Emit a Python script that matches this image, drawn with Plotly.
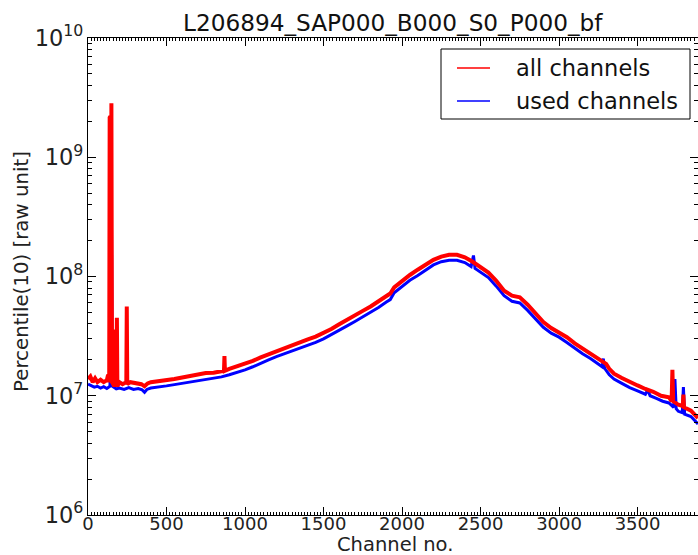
import plotly.graph_objects as go

title_text = "L206894_SAP000_B000_S0_P000_bf"
x_label = "Channel no."
y_label = "Percentile(10) [raw unit]"
series_names = ["all channels", "used channels"]
series_colors = ["#ff0000", "#0000ff"]

# "all channels" (red)
all_ch = [0, 15, 30, 45, 60, 80, 100, 120, 128, 135, 138, 143, 146, 149, 153, 160, 168, 171, 174,
          181, 184, 187, 200, 220, 244, 247, 250, 270, 300, 340, 360, 380, 400, 450, 500, 550, 600,
          650, 700, 750, 800, 850, 866, 869, 872, 900, 950, 1000, 1050, 1100, 1150, 1200, 1250,
          1300, 1350, 1400, 1450, 1500, 1550, 1600, 1650, 1700, 1750, 1800, 1850, 1900, 1925, 1950,
          2000, 2050, 2100, 2150, 2200, 2250, 2300, 2350, 2400, 2450, 2500, 2550, 2600, 2650, 2700,
          2750, 2800, 2850, 2900, 2950, 3000, 3050, 3100, 3150, 3200, 3250, 3300, 3320, 3350, 3400,
          3450, 3500, 3550, 3600, 3650, 3700, 3717, 3722, 3727, 3760, 3788, 3792, 3796, 3840, 3885]
all_val = [1.38e7, 1.45e7, 1.3e7, 1.4e7, 1.3e7, 1.36e7, 1.3e7, 1.35e7, 1.5e7, 1.3e7, 2.15e9, 2.2e9,
           1.4e7, 2.84e9, 1.3e7, 1.25e7, 1.2e7, 3.6e7, 1.2e7,
           1.25e7, 4.5e7, 1.2e7, 1.3e7, 1.25e7, 1.3e7, 5.6e7, 1.25e7, 1.3e7, 1.27e7, 1.25e7, 1.2e7,
           1.27e7, 1.3e7, 1.32e7, 1.35e7, 1.38e7, 1.42e7,
           1.46e7, 1.5e7, 1.55e7, 1.56e7, 1.6e7, 1.62e7, 2.15e7, 1.62e7, 1.68e7, 1.76e7, 1.85e7,
           1.96e7, 2.1e7, 2.23e7, 2.38e7, 2.52e7,
           2.66e7, 2.8e7, 2.97e7, 3.13e7, 3.35e7, 3.63e7, 3.97e7, 4.3e7, 4.7e7, 5.15e7, 5.6e7,
           6.15e7, 6.8e7, 7.2e7, 8.1e7,
           9.2e7, 1.03e8, 1.14e8, 1.26e8, 1.38e8, 1.47e8, 1.52e8, 1.52e8, 1.45e8, 1.33e8, 1.2e8,
           1.08e8, 9.2e7, 7.6e7, 6.9e7,
           6.7e7, 5.8e7, 4.9e7, 4.15e7, 3.7e7, 3.4e7, 3.1e7, 2.75e7, 2.5e7, 2.27e7, 2.05e7, 1.85e7,
           1.68e7, 1.53e7, 1.41e7,
           1.3e7, 1.22e7, 1.14e7, 1.08e7, 1.0e7, 9.7e6, 9.0e6, 1.65e7, 9.0e6, 8.4e6, 8.2e6, 1.02e7,
           8.0e6, 7.5e6, 6.5e6]

# "used channels" (blue)
used_ch = [0, 20, 40, 60, 80, 100, 120, 140, 148, 155, 180, 200, 230, 260, 290, 320, 345, 360, 375,
           400, 450, 500, 550, 600, 650, 700, 750, 800, 850, 900, 950, 1000, 1050, 1100, 1150, 1200,
           1250, 1300, 1350, 1400, 1450, 1500, 1550, 1600, 1650, 1700, 1750, 1800, 1850, 1900, 1925,
           1950, 2000, 2050, 2100, 2150, 2200, 2250, 2300, 2350, 2400, 2440, 2455, 2465, 2500, 2550,
           2600, 2650, 2700, 2750, 2800, 2850, 2900, 2950, 3000, 3050, 3100, 3150, 3200, 3250, 3275,
           3282, 3290, 3320, 3350, 3400, 3450, 3500, 3550, 3565, 3580, 3620, 3660, 3700, 3730, 3738,
           3746, 3760, 3785, 3792, 3800, 3840, 3885]
used_val = [1.25e7, 1.22e7, 1.18e7, 1.2e7, 1.16e7, 1.19e7, 1.15e7, 1.2e7, 6.9e8, 1.2e7, 1.14e7,
            1.16e7, 1.13e7, 1.17e7, 1.13e7, 1.15e7, 1.12e7, 1.07e7, 1.13e7,
            1.16e7, 1.18e7, 1.21e7, 1.24e7, 1.27e7, 1.31e7, 1.35e7, 1.38e7, 1.4e7, 1.44e7, 1.5e7,
            1.57e7, 1.65e7, 1.75e7, 1.88e7, 2.0e7, 2.13e7,
            2.25e7, 2.38e7, 2.5e7, 2.65e7, 2.8e7, 3.0e7, 3.25e7, 3.55e7, 3.85e7, 4.2e7, 4.6e7, 5.0e7,
            5.5e7, 6.1e7, 6.4e7,
            7.3e7, 8.3e7, 9.3e7, 1.02e8, 1.13e8, 1.25e8, 1.33e8, 1.37e8, 1.37e8, 1.31e8, 1.21e8,
            1.5e8, 1.17e8, 1.08e8, 9.8e7,
            8.3e7, 6.9e7, 6.2e7, 6.0e7, 5.2e7, 4.4e7, 3.75e7, 3.35e7, 3.1e7, 2.8e7, 2.5e7, 2.25e7,
            2.05e7, 1.85e7, 1.75e7,
            2.05e7, 1.7e7, 1.5e7, 1.38e7, 1.27e7, 1.17e7, 1.1e7, 1.03e7, 1.12e7, 1.0e7, 9.5e6, 9.0e6,
            8.7e6, 8.0e6, 1.38e7,
            7.8e6, 7.4e6, 7.2e6, 1.18e7, 7.0e6, 6.7e6, 5.8e6]

x_range = [0, 3885]
y_range_log = [6, 10]
x_ticks = [0, 500, 1000, 1500, 2000, 2500, 3000, 3500]

FONT = "DejaVu Sans"
TXT = "#222222"
W, H = 698, 555
ML, MR, MT, MB = 88, 0, 38, 40
PW, PH = W - ML - MR, H - MT - MB


def px_x(p):
    return (p - ML) / PW


def px_y(p):
    return (H - MB - p) / PH


fig = go.Figure()
fig.add_trace(go.Scatter(x=used_ch, y=used_val, mode="lines", name=series_names[1],
                         line=dict(color=series_colors[1], width=3), hoverinfo="skip"))
fig.add_trace(go.Scatter(x=all_ch, y=all_val, mode="lines", name=series_names[0],
                         line=dict(color=series_colors[0], width=4), hoverinfo="skip"))

axis_common = dict(showgrid=False, zeroline=False, showline=True, linecolor="black", linewidth=1,
                   mirror="allticks", ticks="inside", tickcolor="black", ticklen=8, tickwidth=1,
                   automargin=False,
                   tickfont=dict(family=FONT, size=18, color=TXT))

fig.update_xaxes(range=x_range, tickvals=x_ticks, ticklabelstandoff=-8,
                 minor=dict(ticks="inside", dtick=20, ticklen=3, tickcolor="black", showgrid=False),
                 **axis_common)
fig.update_yaxes(type="log", range=y_range_log, dtick=1, exponentformat="power",
                 minor=dict(ticks="inside", dtick="D1", ticklen=4, tickcolor="black", showgrid=False),
                 **axis_common)

# legend box drawn like the original (box, line samples, labels)
legend_box = (441, 49, 690, 119)
row_y = [68, 101]
shapes = [dict(type="rect", xref="paper", yref="paper",
               x0=px_x(legend_box[0]), x1=px_x(legend_box[2]),
               y0=px_y(legend_box[3]), y1=px_y(legend_box[1]),
               line=dict(color="black", width=1), fillcolor="white", layer="above")]
annotations = []
for name, col, ry in zip(series_names, series_colors, row_y):
    shapes.append(dict(type="line", xref="paper", yref="paper", x0=px_x(457), x1=px_x(490),
                       y0=px_y(ry), y1=px_y(ry), line=dict(color=col, width=1.3), layer="above"))
    annotations.append(dict(text=name, xref="paper", yref="paper", x=px_x(514), y=px_y(ry),
                            xanchor="left", yanchor="middle", showarrow=False,
                            font=dict(family=FONT, size=22.5, color="#111111")))

# axis titles
annotations.append(dict(text=x_label, xref="paper", yref="paper", x=px_x(395), y=px_y(544),
                        xanchor="center", yanchor="middle", showarrow=False,
                        font=dict(family=FONT, size=19.5, color=TXT)))
annotations.append(dict(text=y_label, xref="paper", yref="paper", x=px_x(21), y=px_y(272),
                        xanchor="center", yanchor="middle", showarrow=False, textangle=-90,
                        font=dict(family=FONT, size=19.8, color=TXT)))
annotations.append(dict(text=title_text, xref="paper", yref="paper", x=px_x(393), y=px_y(22),
                        xanchor="center", yanchor="middle", showarrow=False,
                        font=dict(family=FONT, size=23.2, color="#111111")))

fig.update_layout(
    width=W, height=H,
    margin=dict(l=ML, r=MR, t=MT, b=MB),
    paper_bgcolor="white", plot_bgcolor="white",
    showlegend=False,
    shapes=shapes,
    annotations=annotations,
)

fig.write_html("out.html", config={"displayModeBar": False},
               post_script="document.body.style.margin='0px';")
